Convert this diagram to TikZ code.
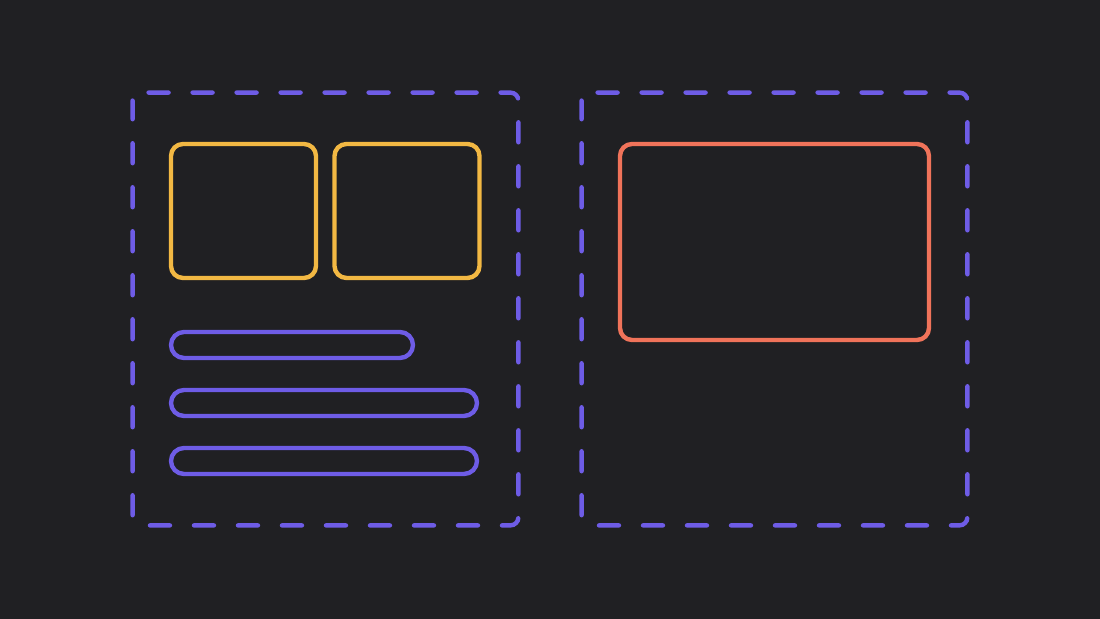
\documentclass[tikz,border=0pt]{standalone}
\usepackage{tikz}
\usetikzlibrary{positioning}

\definecolor{bg}{HTML}{202023}
\definecolor{violet}{HTML}{6E5CE6}
\definecolor{amber}{HTML}{F2B843}
\definecolor{salmon}{HTML}{F0735A}

\tikzset{
    panel/.style={inner sep=0pt, minimum width=192.5pt, minimum height=216pt},
    frame/.style={draw=violet, line width=2.2pt, rounded corners=4pt, line cap=round,
        dash pattern=on 10pt off 12pt},
    tile/.style={draw=amber, line width=2.2pt, rounded corners=6pt, inner sep=0pt,
        minimum width=72.5pt, minimum height=67pt},
    media/.style={draw=salmon, line width=2.2pt, rounded corners=6pt, inner sep=0pt,
        minimum width=154.5pt, minimum height=98pt},
    bar/.style={draw=violet, line width=2.2pt, rounded corners=6.5pt, inner sep=0pt,
        minimum height=13pt}
}

\begin{document}
\begin{tikzpicture}[x=0.5pt,y=-0.5pt,node distance=29pt,on grid]
        \fill[bg] (0,0) rectangle (1100,619);
        \useasboundingbox (0,0) rectangle (1100,619);

        \node[panel] (left)  at (325.5,309) {};
        \node[panel] (right) at (774.5,309) {};

        \foreach \p in {left,right}
            \draw[frame] ([xshift=8pt]\p.north west) -- (\p.north east) -- (\p.south east)
                -- (\p.south west) -- ([yshift=-4pt]\p.north west);

        \node[tile] (t1) at (243.5,211) {};
        \node[tile] (t2) at (407,211) {};

        \node[media] (m) at (774.5,242) {};

        \node[bar, minimum width=121pt] (b1) at (292,345) {};
        \node[bar, minimum width=153pt] (b2) at (324,403) {};
        \node[bar, minimum width=153pt] (b3) [below=of b2] {};
    \end{tikzpicture}
\end{document}
